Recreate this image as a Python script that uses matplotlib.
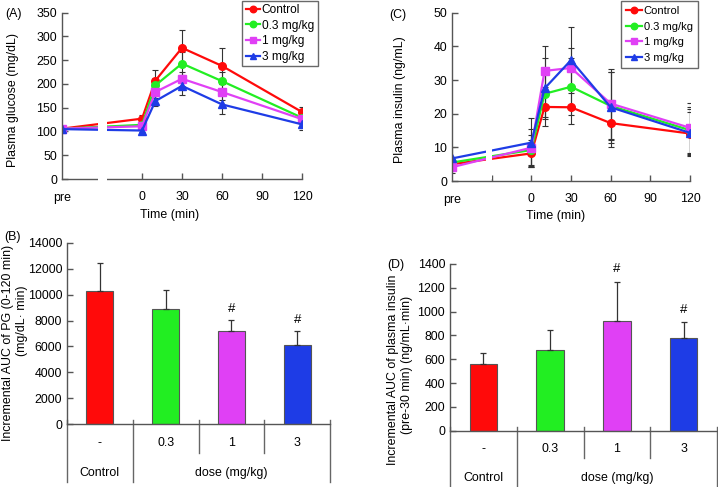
import matplotlib
matplotlib.use('agg')
import matplotlib.pyplot as plt
from matplotlib.patches import Rectangle

plt.rcParams['font.family'] = ['Liberation Sans', 'DejaVu Sans']
plt.rcParams['font.size'] = 8.9

W, H = 718, 487
FS = 8.9

# ---- data ----
groups = ['Control', '0.3 mg/kg', '1 mg/kg', '3 mg/kg']
colors = ['#FF0A0A', '#22EE22', '#E040F5', '#1E3CE6']
markers = ['o', 'o', 's', '^']

time = [-60, 0, 10, 30, 60, 120]   # -60 = "pre"

glucose = [
    [106, 127, 207, 276, 238, 141],
    [106, 114, 197, 243, 206, 129],
    [106, 111, 183, 211, 183, 126],
    [105, 102, 164, 196, 157, 115],
]
glucose_err = [
    [3, 8, 22, 37, 38, 11],
    [3, 6, 15, 24, 20, 8],
    [3, 5, 12, 15, 17, 8],
    [3, 4, 10, 20, 20, 11],
]

insulin = [
    [5.0, 8.2, 22.0, 21.9, 17.2, 14.1],
    [5.5, 9.2, 25.9, 28.0, 22.3, 15.1],
    [4.1, 9.9, 32.7, 33.6, 23.0, 15.8],
    [6.7, 11.4, 27.5, 35.9, 21.9, 14.3],
]
insulin_err = [
    [1.5, 4.0, 5.8, 5.0, 7.0, 6.5],
    [1.5, 4.5, 7.0, 8.5, 10.0, 7.0],
    [1.8, 5.5, 7.5, 6.0, 10.4, 7.4],
    [3.5, 7.2, 9.0, 9.9, 10.5, 7.0],
]

dose_labels = ['-', '0.3', '1', '3']
auc_pg = [10275, 8890, 7220, 6140]
auc_pg_err = [2180, 1460, 820, 1080]
auc_pg_sig = ['', '', '#', '#']

auc_ins = [557, 680, 924, 778]
auc_ins_err = [98, 168, 328, 132]
auc_ins_sig = ['', '', '#', '#']

spine_c = '#555555'


def px_axes(l, t, r, b):
    return fig.add_axes([l / W, 1 - b / H, (r - l) / W, (b - t) / H])


def ftext(x, y, s, **kw):
    # text placed by pixel position on the figure
    return fig.text(x / W, 1 - y / H, s, fontsize=FS, **kw)


def style(ax):
    for s in ['top', 'right']:
        ax.spines[s].set_visible(False)
    for s in ['left', 'bottom']:
        ax.spines[s].set_color(spine_c)
        ax.spines[s].set_linewidth(1.0)
    ax.tick_params(direction='in', length=4, color=spine_c, width=1.0,
                   labelsize=FS)


fig = plt.figure(figsize=(W / 100, H / 100), dpi=100)


def line_panel(ax, data, err, ylim, yticks, gap, cut_axis, xticks):
    for i in range(4):
        ax.errorbar(time, data[i], yerr=err[i], fmt='none', ecolor='#333333',
                    elinewidth=0.8, capsize=2, capthick=0.8, zorder=1.5)
        ax.plot(time, data[i], color=colors[i], marker=markers[i], lw=1.6,
                ms=5.5, mec=colors[i], label=groups[i], zorder=2)
    ax.set_xlim(-60, 120)
    ax.set_ylim(*ylim)
    ax.set_yticks(yticks)
    ax.set_xticks(xticks)
    ax.set_xticklabels(['pre' if t == -60 else ('' if t == -30 else str(t)) for t in xticks])
    style(ax)
    ax.tick_params(axis='x', length=4, pad=9)
    ax.xaxis.get_major_ticks()[0].tick1line.set_visible(False)
    y0 = -0.03 if cut_axis else 0.012
    ax.add_patch(Rectangle((gap[0], y0), gap[1] - gap[0], 1.1,
                           transform=ax.get_xaxis_transform(), fc='white',
                           ec='none', zorder=2.8, clip_on=False))


def legend(ax, anchor, fs, hl, ls, bp):
    leg = ax.legend(loc='upper left', bbox_to_anchor=(anchor[0] / W, 1 - anchor[1] / H),
                    bbox_transform=fig.transFigure, frameon=True, fancybox=False,
                    fontsize=fs, handlelength=hl, handletextpad=0.15,
                    borderpad=bp, labelspacing=ls, borderaxespad=0,
                    markerscale=0.85)
    leg.get_frame().set_edgecolor('#444444')
    leg.get_frame().set_linewidth(1.0)


# ---- (A) ----
axA = px_axes(62, 12.7, 302, 179)
line_panel(axA, glucose, glucose_err, (0, 350), range(0, 351, 50), (-33, -26),
           True, [-60, 0, 30, 60, 90, 120])
legend(axA, (242, 0.5), 8.6, 1.2, 0.3, 0.3)
ftext(13, 100, 'Plasma glucose (mg/dL)', rotation=90, ha='center', va='center')
ftext(170, 215, 'Time (min)', ha='center', va='center')
ftext(5, 14, '(A)', va='center')

# ---- (C) ----
axC = px_axes(452, 12.7, 690, 181)
line_panel(axC, insulin, insulin_err, (0, 50), range(0, 51, 10), (-34.5, -29.5),
           False, [-60, -30, 0, 30, 60, 90, 120])
legend(axC, (621, 1), 8.0, 1.45, 0.5, 0.45)
ftext(400, 100, 'Plasma insulin (ng/mL)', rotation=90, ha='center', va='center')
ftext(556, 216, 'Time (min)', ha='center', va='center')
ftext(389, 15, '(C)', va='center')


def bar_panel(ax, vals, errs, sig, ylim, yticks, short_y, full_y,
              row1_y, row2_y, sig_off):
    x = [i + 0.5 for i in range(4)]
    ax.bar(x, vals, width=0.41, color=colors, edgecolor='#555555', lw=0.8,
           yerr=[[0] * 4, errs], error_kw=dict(ecolor='#333333', elinewidth=0.9,
                                                capsize=2.5, capthick=0.9),
           zorder=2)
    for xi, v, e, s in zip(x, vals, errs, sig):
        if s:
            ax.text(xi, v + e + sig_off, s, ha='center', va='center', fontsize=9.5)
    ax.set_xlim(0, 4)
    ax.set_ylim(*ylim)
    ax.set_yticks(yticks)
    ax.set_xticks([])
    style(ax)
    tr = ax.get_xaxis_transform()
    for xv, yb in zip([0, 1, 2, 3, 4], [full_y, full_y, short_y, short_y, full_y]):
        ax.plot([xv, xv], [0.025, yb], transform=tr, color='#666666', lw=1.0,
                clip_on=False)
    for xi, lab in zip(x, dose_labels):
        ax.text(xi, row1_y, lab, transform=tr, ha='center', va='center', fontsize=FS)
    ax.text(0.5, row2_y, 'Control', transform=tr, ha='center', va='center', fontsize=FS)
    ax.text(2.5, row2_y, 'dose (mg/kg)', transform=tr, ha='center', va='center', fontsize=FS)


# ---- (B) ----
axB = px_axes(67, 242.7, 330, 424.3)
bar_panel(axB, auc_pg, auc_pg_err, auc_pg_sig, (0, 14000), range(0, 14001, 2000),
          -0.158, -0.317, -0.102, -0.266, 850)
ftext(8, 343, 'Incremental AUC of PG (0-120 min)', rotation=90, ha='center', va='center')
ftext(22, 321, '(mg/dL\u00b7 min)', rotation=90, ha='center', va='center')
ftext(4, 237, '(B)', va='center')

# ---- (D) ----
axD = px_axes(450, 264, 717, 430.7)
bar_panel(axD, auc_ins, auc_ins_err, auc_ins_sig, (0, 1400), range(0, 1401, 200),
          -0.164, -0.338, -0.11, -0.284, 105)
ftext(393, 370, 'Incremental AUC of plasma insulin', rotation=90, ha='center', va='center')
ftext(407, 365, '(pre-30 min) (ng/mL\u00b7min)', rotation=90, ha='center', va='center')
ftext(387, 265, '(D)', va='center')

plt.savefig('out.png', dpi=100)
